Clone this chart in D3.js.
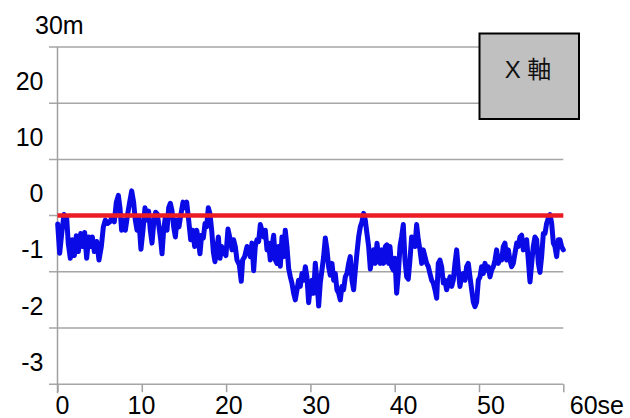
<!DOCTYPE html>
<html>
<head>
<meta charset="utf-8">
<script src="https://cdn.jsdelivr.net/npm/d3@7/dist/d3.min.js"></script>
<style>
  html, body { margin: 0; padding: 0; background: #fff; overflow: hidden; }
  svg { display: block; }
</style>
</head>
<body>
<script>
// ---- data ----
const gridValues = [30, 20, 10, 0, -10, -20, -30];
const yTickLabels = ["30m", "20", "10", "0", "-1", "-2", "-3"];
const xTickValues = [0, 10, 20, 30, 40, 50, 60];
const xTickLabels = ["0", "10", "20", "30", "40", "50", "60se"];
const legendLabel = "X 軸";
const referenceLevel = 0;

const time = [
  0.02,0.26,0.50,0.77,1.09,1.28,1.52,1.76,2.00,2.23,2.47,2.75,2.99,3.22,3.46,3.70,3.93,4.13,4.37,4.65,
  4.92,5.20,5.44,5.67,5.95,6.23,6.46,6.74,6.98,7.22,7.41,7.61,7.81,8.05,8.32,8.56,8.80,9.03,9.23,9.43,
  9.63,9.90,10.14,10.38,10.58,10.81,11.01,11.21,11.41,11.64,11.84,12.04,12.24,12.40,12.59,12.79,12.99,13.19,13.39,13.58,
  13.78,13.98,14.18,14.41,14.65,14.89,15.12,15.32,15.56,15.80,16.03,16.27,16.51,16.70,16.90,17.10,17.30,17.50,17.69,17.89,
  18.09,18.29,18.49,18.68,18.88,19.08,19.28,19.47,19.67,
  19.98,20.22,20.50,20.70,20.89,21.09,21.29,21.57,21.80,21.96,22.20,22.48,22.67,22.87,23.07,23.27,23.46,23.66,23.86,24.06,
  24.25,24.45,24.65,24.85,25.05,25.24,25.44,25.64,25.84,26.03,26.23,26.43,26.63,26.83,27.02,27.22,27.42,27.62,27.81,28.01,
  28.21,28.41,28.60,28.80,29.00,29.20,29.40,29.59,29.79,29.99,30.19,30.38,30.58,30.78,30.98,31.17,31.37,31.57,31.77,31.97,
  32.16,32.36,32.56,32.76,32.95,33.15,33.35,33.55,33.74,33.94,34.14,34.34,34.54,34.73,34.93,35.13,35.33,35.52,35.72,35.92,
  36.12,36.32,36.51,36.71,36.91,37.11,37.30,37.50,37.70,37.90,38.09,38.29,38.49,38.69,38.89,39.08,39.28,
  39.44,39.64,39.84,40.03,40.23,40.43,40.63,40.82,41.02,41.22,41.42,41.61,41.81,42.01,42.21,42.41,42.60,42.80,43.00,43.20,
  43.39,43.59,43.79,43.99,44.18,44.38,44.58,44.78,44.98,45.17,45.37,45.57,45.77,45.96,46.16,46.36,46.56,46.76,46.95,47.15,
  47.35,47.55,47.74,47.94,48.14,48.34,48.53,48.73,48.93,49.13,49.33,49.52,49.72,49.92,50.12,50.31,50.51,50.71,50.91,51.10,
  51.30,51.50,51.70,51.90,52.09,52.29,52.49,52.69,52.88,53.08,53.28,53.48,53.67,53.87,54.07,54.27,54.47,54.66,54.86,55.06,
  55.26,55.45,55.65,55.85,56.05,56.25,56.44,56.64,56.84,57.04,57.23,57.43,57.63,57.83,58.02,58.22,58.42,58.62,58.82,59.01,
  59.21,59.41,59.61,59.80,60.00
];
const amplitude = [
  -1.5,-6.7,-3.2,0.2,-0.4,-5.0,-7.6,-4.3,-7.1,-3.6,-6.4,-3.2,-5.5,-3.0,-7.6,-3.8,-5.5,-3.8,-6.4,-4.6,
  -7.9,-5.5,-2.0,-0.8,-1.4,-1.1,-0.3,-1.1,2.4,3.6,1.4,-2.6,-0.8,-2.6,0.2,2.4,4.4,2.4,-0.8,-2.6,
  -0.3,-6.0,-2.6,1.4,-0.8,0.8,-2.6,-4.9,-1.4,0.6,0.3,-2.0,-4.3,-6.8,-2.6,-0.3,-2.6,1.4,2.2,0.9,
  -2.0,-3.8,-0.8,-2.0,0.3,2.4,1.4,2.4,-0.8,-4.3,-2.6,-5.5,-2.6,-4.3,-6.8,-3.5,-4.0,-1.4,-2.0,1.4,
  0.3,-2.6,-6.5,-8.2,-6.1,-3.8,-7.6,-5.5,-6.4,
  -7.1,-2.4,-4.3,-6.1,-4.3,-5.5,-7.9,-8.8,-11.7,-7.9,-7.3,-5.5,-6.1,-7.3,-4.9,-9.8,-5.5,-4.3,-4.6,-1.6,
  -2.6,-3.8,-2.6,-6.1,-4.9,-7.9,-5.5,-3.5,-7.9,-8.5,-5.5,-9.0,-3.8,-7.3,-2.6,-5.5,-9.4,-10.9,-12.0,-13.8,
  -15.0,-13.2,-11.5,-12.6,-10.3,-11.5,-9.1,-10.9,-15.5,-12.6,-11.5,-13.8,-8.5,-11.5,-16.1,-12.0,-9.7,-7.3,-4.0,-6.1,
  -9.1,-10.6,-8.5,-11.5,-10.3,-13.2,-13.8,-15.0,-12.6,-13.2,-10.9,-10.3,-8.5,-7.3,-11.5,-13.2,-9.7,-6.7,-3.8,-2.0,
  -1.1,0.4,-0.8,-3.2,-5.5,-9.5,-7.3,-6.1,-8.5,-4.9,-7.3,-8.5,-6.1,-8.5,-5.5,-5.2,-8.5,
  -5.5,-9.1,-9.7,-7.6,-13.8,-10.3,-5.5,-3.8,-1.6,-7.9,-10.9,-11.3,-7.9,-3.8,-4.3,-5.5,-1.6,-4.3,-6.1,-8.5,
  -6.1,-7.3,-8.5,-9.1,-10.3,-11.5,-12.0,-13.2,-14.7,-8.5,-7.9,-9.1,-12.0,-11.5,-13.2,-12.0,-10.9,-12.6,-11.5,-8.5,
  -6.1,-9.7,-12.6,-10.9,-10.3,-11.5,-9.1,-8.5,-10.9,-13.2,-15.4,-16.2,-15.4,-11.5,-10.9,-9.1,-10.3,-8.5,-9.7,-9.1,
  -10.9,-9.7,-9.1,-7.9,-6.1,-8.5,-7.3,-7.9,-5.5,-4.9,-7.9,-6.1,-7.9,-9.1,-8.5,-6.7,-4.9,-5.5,-3.8,-3.5,
  -6.1,-5.5,-4.3,-7.9,-11.8,-8.5,-5.5,-3.8,-4.3,-8.5,-10.1,-7.3,-3.2,-3.2,-1.4,-0.5,0.2,-1.4,-4.9,-5.5,
  -7.3,-4.3,-4.3,-5.5,-6.1
];

// ---- layout ----
const W = 630, H = 418;
const FONT = "'Liberation Sans', Arial, Helvetica, 'Noto Sans CJK JP', sans-serif";
const svg = d3.select("body").append("svg").attr("width", W).attr("height", H);

const x = d3.scaleLinear().domain([0, 60]).range([57.5, 563.3]);
const y = d3.scaleLinear().domain([-30, 30]).range([384.2, 47]);

// gridlines (extend slightly left of the axis like tick marks)
svg.append("g").selectAll("line").data(gridValues).join("line")
  .attr("x1", 49).attr("x2", x(60))
  .attr("y1", d => y(d)).attr("y2", d => y(d))
  .attr("stroke", "#a6a6a6").attr("stroke-width", 1.5);

// y axis line
svg.append("line")
  .attr("x1", x(0)).attr("x2", x(0))
  .attr("y1", y(30)).attr("y2", y(-30) + 9)
  .attr("stroke", "#a0a0a0").attr("stroke-width", 1.5);

// x axis ticks
const xAxis = d3.axisBottom(x).tickValues(xTickValues).tickSize(8).tickFormat("");
const gx = svg.append("g").attr("transform", `translate(0,${y(-30)})`).call(xAxis);
gx.select(".domain").remove();
gx.selectAll(".tick line").attr("stroke", "#a0a0a0").attr("stroke-width", 1.5);

// x tick labels
const xLabelPos = d3.scaleLinear().domain([10, 50]).range([141.5, 491]);
svg.append("g").selectAll("text").data(xTickValues).join("text")
  .attr("x", (d, i) => i === 0 ? x(d) - 2 : (i === xTickValues.length - 1 ? x(d) + 6.5 : xLabelPos(d)))
  .attr("y", 414)
  .attr("text-anchor", (d, i) => (i === 0 || i === xTickValues.length - 1) ? "start" : "middle")
  .attr("font-family", FONT).attr("font-size", 25).attr("fill", "#000")
  .text((d, i) => xTickLabels[i]);

// y tick labels (sit above each gridline)
svg.append("g").selectAll("text").data(gridValues).join("text")
  .attr("x", (d, i) => i === 0 ? 35 : 43.5)
  .attr("y", d => y(d) - 13.5)
  .attr("text-anchor", (d, i) => i === 0 ? "start" : "end")
  .attr("font-family", FONT).attr("font-size", 25).attr("fill", "#000")
  .text((d, i) => yTickLabels[i]);

// signal line
const pts = time.map((t, i) => [t, amplitude[i]]);
svg.append("path").datum(pts)
  .attr("fill", "none").attr("stroke", "#0a0ae6").attr("stroke-width", 5)
  .attr("stroke-linejoin", "round").attr("stroke-linecap", "round")
  .attr("d", d3.line().x(d => x(d[0])).y(d => y(d[1])).curve(d3.curveLinear));

// reference line
svg.append("line")
  .attr("x1", x(0)).attr("x2", x(60))
  .attr("y1", y(referenceLevel)).attr("y2", y(referenceLevel))
  .attr("stroke", "#ec1c24").attr("stroke-width", 4.5);

// legend box
const lg = svg.append("g");
lg.append("rect").attr("x", 479.5).attr("y", 33.5).attr("width", 99.5).attr("height", 85.5)
  .attr("fill", "#c0c0c0").attr("stroke", "#000").attr("stroke-width", 2);
lg.append("text").attr("x", 528).attr("y", 77.5).attr("text-anchor", "middle")
  .attr("font-family", FONT).attr("font-size", 24).attr("fill", "#111")
  .text(legendLabel);
</script>
</body>
</html>
